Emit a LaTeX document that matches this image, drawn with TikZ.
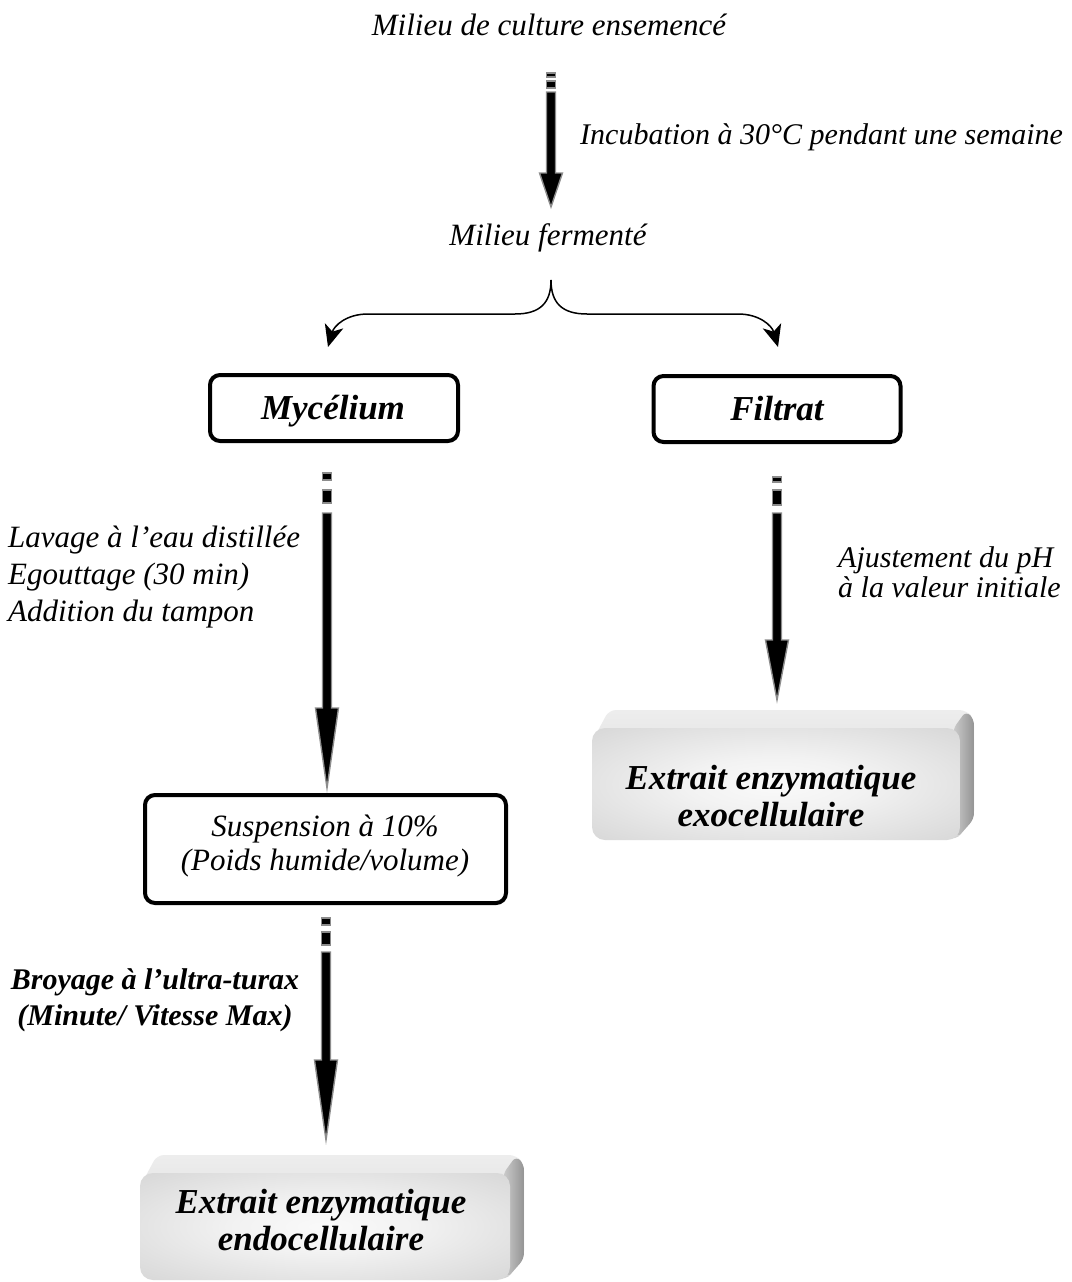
\documentclass[tikz,border=0pt]{standalone}
\usepackage{fontspec}
\setmainfont{Liberation Serif}
\usetikzlibrary{calc,arrows.meta}
\pgfdeclareradialshading{frontglow}{\pgfpoint{0bp}{0bp}}{color(0bp)=(black!2); color(12bp)=(black!5); color(50bp)=(black!22); color(72bp)=(black!27)}
% #1 top coordinate, #2 tip coordinate, #3 dash length, #4 gap, #5 block length, #6 head length
\newcommand\fatarrow[6]{%
  \filldraw[fatpart] ($(#1)+(-4.5,0)$) rectangle ($(#1)+(4.5,#3)$);
  \filldraw[fatpart] ($(#1)+(-4.5,#3+#4)$) rectangle ($(#1)+(4.5,#3+#4+#5)$);
  \filldraw[fatpart] ($(#1)+(-4.5,#3+#4+#5+#4)$) -- ($(#2)+(-4.5,-#6)$) -- ($(#2)+(-11.5,-#6)$) -- (#2)
    -- ($(#2)+(11.5,-#6)$) -- ($(#2)+(4.5,-#6)$) -- ($(#1)+(4.5,#3+#4+#5+#4)$) -- cycle;
}
% #1 x0, #2 y0, #3 x1, #4 y1 of the front face
\newcommand\bevbox[4]{%
  \shade[top color=black!7,bottom color=black!17,rounded corners=7pt]
    (#1+1,#2+12) -- (#1+17,#2-18) -- (#3+6,#2-18) -- (#3+14,#2-9) -- (#3+14,#4-22) -- (#3-4,#4) -- cycle;
  \shade[left color=black!20,right color=black!42,rounded corners=6pt]
    (#3-7,#2+1) -- (#3+6,#2-17) -- (#3+14,#2-9) -- (#3+14,#4-21) -- (#3-3,#4-2) -- cycle;
  \shade[shading=frontglow,rounded corners=13pt] (#1,#2) rectangle (#3,#4);
}
\tikzset{
  fatpart/.style={fill=black,draw=black!45,line width=1.4pt},
  lbl/.style={font=\fontsize{31}{36}\selectfont\itshape,inner sep=0pt},
  bld/.style={font=\fontsize{35}{37}\selectfont\bfseries\itshape,inner sep=0pt},
  roundbox/.style={draw=black,line width=4pt,rounded corners=10pt,inner sep=0pt},
  bracearrow/.style={line width=1.5pt,-{Stealth[length=22pt,width=19pt,inset=6pt]}}
}
\begin{document}
\begin{tikzpicture}[x=1pt,y=-1pt]
\useasboundingbox (0,0) rectangle (1071,1282);
\fill[white] (0,0) rectangle (1071,1282);

% top texts
\node[lbl] (t1) at (549,25) {Milieu de culture ensemencé};
\node[lbl,anchor=west,font=\fontsize{30}{36}\selectfont\itshape] (inc) at (580,137) {Incubation à 30°C pendant une semaine};
\node[lbl] (t2) at (548,238) {Milieu fermenté};

% arrow 1
\coordinate (a1s) at (551,73);
\coordinate (a1e) at (551,207);
\fatarrow{a1s}{a1e}{4}{4}{7}{34}

% brace split
\coordinate (bt) at (551,280);
\coordinate (bl) at (328,347);
\coordinate (br) at (778,347);
\draw[bracearrow] (bt) .. controls (551,303) and (540,314) .. (515,314) -- (368,314)
   .. controls (346,314) and (334,326) .. (bl);
\draw[bracearrow] (bt) .. controls (551,303) and (562,314) .. (587,314) -- (738,314)
   .. controls (760,314) and (772,326) .. (br);

% level boxes
\node[roundbox,minimum width=248pt,minimum height=66pt] (myc) at (334,408) {};
\node[bld,anchor=base] (myct) at (333,419) {Mycélium};
\node[roundbox,minimum width=247pt,minimum height=66pt] (fil) at (777,409) {};
\node[bld,anchor=base] (filt) at (777,420) {Filtrat};

% left branch
\coordinate (a2s) at (327,473);
\coordinate (a2e) at (327,788);
\fatarrow{a2s}{a2e}{7}{10}{13}{80}
\node[lbl,anchor=west,align=left,font=\fontsize{31}{37}\selectfont\itshape] (lav) at (8,577)
  {Lavage à l’eau distillée\\Egouttage (30 min)\\Addition du tampon};

\node[roundbox,minimum width=361pt,minimum height=108pt] (susp) at (325.5,849) {};
\node[lbl,align=center,font=\fontsize{31}{34}\selectfont\itshape] (suspt) at (325,846)
  {Suspension à 10\%\\(Poids humide/volume)};

\coordinate (a4s) at (326,918);
\coordinate (a4e) at (326,1140);
\fatarrow{a4s}{a4e}{7}{7}{13}{80}
\node[bld,align=center,font=\fontsize{30}{36}\selectfont\bfseries\itshape] (broy) at (155,1000)
  {Broyage à l’ultra-turax\\(Minute/ Vitesse Max)};

\bevbox{140}{1173}{510}{1280}
\node[bld,align=center] (endo) at (321,1220) {Extrait enzymatique\\endocellulaire};

% right branch
\coordinate (a3s) at (777,477);
\coordinate (a3e) at (777,700);
\fatarrow{a3s}{a3e}{5}{8}{15}{60}
\node[lbl,anchor=west,align=left,font=\fontsize{30}{30}\selectfont\itshape] (aju) at (838,572)
  {Ajustement du pH\\à la valeur initiale};

\bevbox{592}{728}{960}{840}
\node[bld,align=center] (exo) at (771,796) {Extrait enzymatique\\exocellulaire};
\end{tikzpicture}
\end{document}
